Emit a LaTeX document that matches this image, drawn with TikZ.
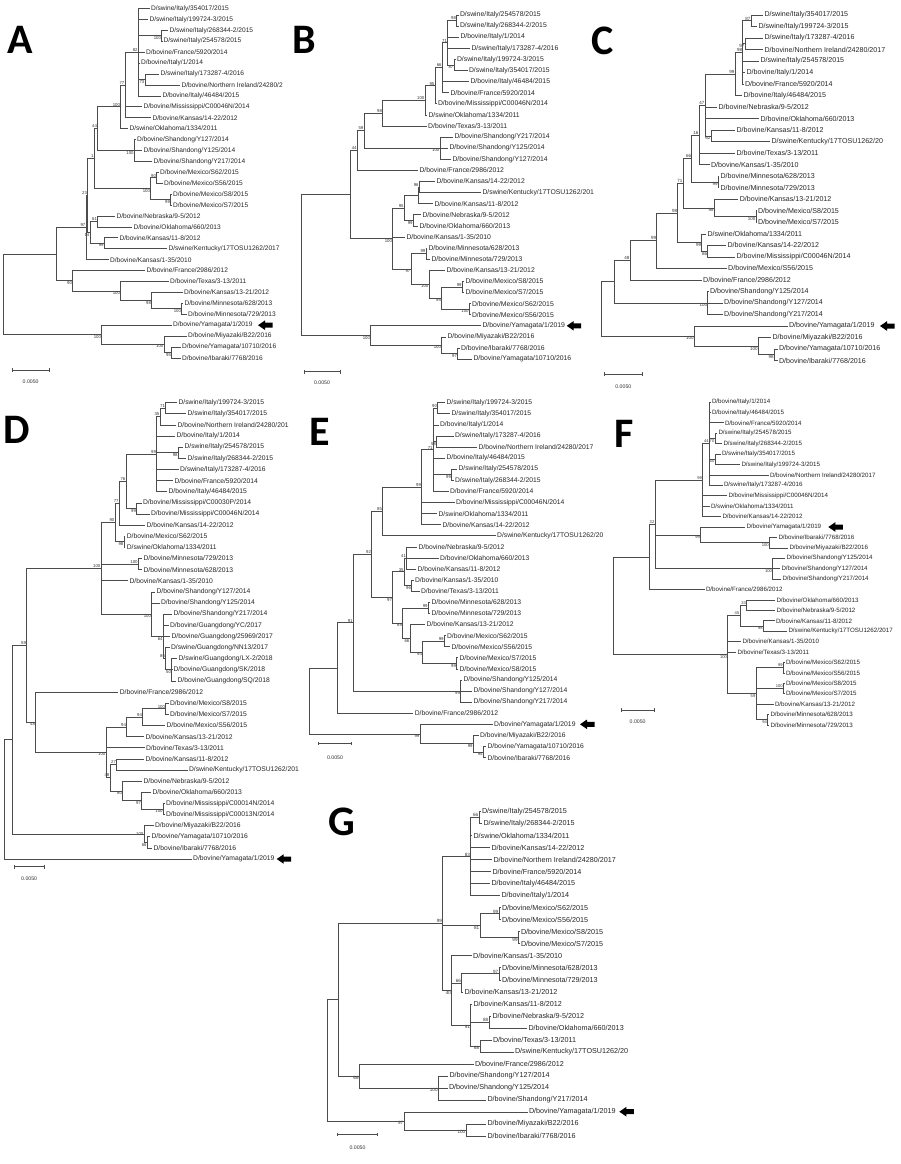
\documentclass[tikz,border=0pt]{standalone}
\usepackage{fontspec}
\setmainfont{Liberation Sans}
\newfontfamily\letfont{Carlito}
\usetikzlibrary{calc}
\newcommand\tleaf[4]{\coordinate (#1) at (#3,{\ya+(#2-1)*\ys}); \node[lab] (#1t) at (#1) {#4};}
\newcommand\tnode[4]{\path let \p1=(#3), \p2=(#4) in (#2pt,{0.5*\y1+0.5*\y2}) coordinate (#1);}
\newcommand\tbr[2]{\foreach \ch in {#2}{\draw[br] (#1) |- (\ch);}}
\newcommand\bsa[2]{\node[bsn,anchor=south east] (#1-b) at (#1) {#2};}
\newcommand\bsb[2]{\node[bsn,anchor=north east] (#1-b) at (#1) {#2};}
\newcommand\bsl[2]{\node[bsn,anchor=east] (#1-b) at (#1) {#2};}
\newcommand\tarrow[3]{\coordinate (#1) at (#2,#3); \fill[black] (#1) -- ++(7,-4.8) -- ++(0,2.3) -- ++(7.5,0) -- ++(0,5) -- ++(-7.5,0) -- ++(0,2.3) -- cycle;}
\newcommand\tscale[5]{\coordinate (#1l) at (#2,#4); \coordinate (#1r) at (#3,#4);
 \draw[br] (#1l) -- (#1r);
 \draw[br] (#1l) ++(0,-1.8) -- ++(0,3.6);
 \draw[br] (#1r) ++(0,-1.8) -- ++(0,3.6);
 \node[sclab] (#1t) at ({(#2+#3)/2},#5) {0.0050};}
\begin{document}
\begin{tikzpicture}[x=1pt,y=-1pt,
 br/.style={line width=0.7pt, draw=black!70},
 lab/.style={anchor=west, inner sep=1.3pt, text=black!85, font=\fontsize{\fs}{\fs}\selectfont},
 bsn/.style={inner sep=0.5pt, text=black!80, font=\fontsize{\bsz}{\bsz}\selectfont},
 sclab/.style={inner sep=0pt, text=black!80, font=\fontsize{5.2}{5.2}\selectfont},
 letter/.style={anchor=base west, inner sep=0pt, font=\letfont\bfseries\fontsize{42}{42}\selectfont}]
\fill[white] (0,0) rectangle (900,1164);
\useasboundingbox (0,0) rectangle (900,1164);
\def\fs{6.6}\def\bsz{4.3}
% ================= PANEL A =================
\def\ya{8.5}\def\ys{10.92}\def\fs{6.6}\def\bsz{4.3}
\node[letter] (LA) at (7,54) {A};
\tleaf{a1}{1}{149.5}{D/swine/Italy/354017/2015}
\tleaf{a2}{2}{148}{D/swine/Italy/199724-3/2015}
\tleaf{a3}{3}{168}{D/swine/Italy/268344-2/2015}
\tleaf{a4}{4}{162}{D/swine/Italy/254578/2015}
\tleaf{a5}{5}{144.5}{D/bovine/France/5920/2014}
\tleaf{a6}{6}{139.5}{D/bovine/Italy/1/2014}
\tleaf{a7}{7}{159}{D/swine/Italy/173287-4/2016}
\tleaf{a8}{8}{180}{D/bovine/Northern Ireland/24280/2}
\tleaf{a9}{9}{161}{D/bovine/Italy/46484/2015}
\tleaf{a10}{10}{142}{D/bovine/Mississippi/C00046N/2014}
\tleaf{a11}{11}{151}{D/bovine/Kansas/14-22/2012}
\tleaf{a12}{12}{128}{D/swine/Oklahoma/1334/2011}
\tleaf{a13}{13}{135.5}{D/bovine/Shandong/Y127/2014}
\tleaf{a14}{14}{142}{D/bovine/Shandong/Y125/2014}
\tleaf{a15}{15}{152}{D/bovine/Shandong/Y217/2014}
\tleaf{a16}{16}{158.5}{D/bovine/Mexico/S62/2015}
\tleaf{a17}{17}{162.5}{D/bovine/Mexico/S56/2015}
\tleaf{a18}{18}{171.5}{D/bovine/Mexico/S8/2015}
\tleaf{a19}{19}{171.5}{D/bovine/Mexico/S7/2015}
\tleaf{a20}{20}{115}{D/bovine/Nebraska/9-5/2012}
\tleaf{a21}{21}{132}{D/bovine/Oklahoma/660/2013}
\tleaf{a22}{22}{118}{D/bovine/Kansas/11-8/2012}
\tleaf{a23}{23}{167}{D/swine/Kentucky/17TOSU1262/2017}
\tleaf{a24}{24}{108.5}{D/bovine/Kansas/1-35/2010}
\tleaf{a25}{25}{145}{D/bovine/France/2986/2012}
\tleaf{a26}{26}{168.5}{D/bovine/Texas/3-13/2011}
\tleaf{a27}{27}{182.5}{D/bovine/Kansas/13-21/2012}
\tleaf{a28}{28}{183}{D/bovine/Minnesota/628/2013}
\tleaf{a29}{29}{186.5}{D/bovine/Minnesota/729/2013}
\tleaf{a30}{30}{171.5}{D/bovine/Yamagata/1/2019}
\tleaf{a31}{31}{186.5}{D/bovine/Miyazaki/B22/2016}
\tleaf{a32}{32}{180.5}{D/bovine/Yamagata/10710/2016}
\tleaf{a33}{33}{180.5}{D/bovine/Ibaraki/7768/2016}
\tnode{A56}{161.7}{a3}{a4} \tbr{A56}{a3,a4} \bsb{A56}{100}
\tnode{A78}{145}{a7}{a8} \tbr{A78}{a7,a8} \bsb{A78}{73}
\tnode{AIt}{138.3}{a1}{a9} \tbr{AIt}{a1,a2,A56,a5,a6,A78,a9} \bsa{AIt}{82}
\tnode{A77}{125}{AIt}{a11} \tbr{A77}{AIt,a10,a11} \bsa{A77}{77}
\tnode{A100}{120.7}{A77}{a12} \tbr{A100}{A77,a12} \bsa{A100}{100}
\tnode{ASh}{134.3}{a13}{a15} \tbr{ASh}{a13,a14,a15} \bsb{ASh}{100}
\tnode{A44}{97.7}{A100}{ASh} \tbr{A44}{A100,ASh} \bsa{A44}{44}
\tnode{AM1}{156.7}{a16}{a17} \tbr{AM1}{a16,a17} \bsa{AM1}{90}
\tnode{AM2}{170.7}{a18}{a19} \tbr{AM2}{a18,a19} \bsb{AM2}{99}
\tnode{AM}{150.7}{AM1}{AM2} \tbr{AM}{AM1,AM2} \bsb{AM}{100}
\tnode{A1n}{94.3}{A44}{AM} \tbr{A1n}{A44,AM} \bsa{A1n}{1}
\tnode{ANe}{97.7}{a20}{a21} \tbr{ANe}{a20,a21} \bsa{ANe}{61}
\tnode{AKe}{104.3}{a22}{a23} \tbr{AKe}{a22,a23} \bsb{AKe}{99}
\tnode{A14}{90}{ANe}{AKe} \tbr{A14}{ANe,AKe} \bsb{A14}{14}
\tnode{A23}{87.7}{A1n}{A14} \tbr{A23}{A1n,A14} \bsa{A23}{23}
\tnode{A97}{86}{A23}{a24} \tbr{A97}{A23,a24} \bsa{A97}{97}
\tnode{AMi}{181.7}{a28}{a29} \tbr{AMi}{a28,a29} \bsb{AMi}{100}
\tnode{A98}{151.7}{a27}{AMi} \tbr{A98}{a27,AMi} \bsb{A98}{98}
\tnode{ATx}{120.7}{a26}{A98} \tbr{ATx}{a26,A98} \bsb{ATx}{100}
\tnode{A90}{72.7}{a25}{ATx} \tbr{A90}{a25,ATx} \bsb{A90}{90}
\tnode{A57}{56.7}{A97}{A90} \tbr{A57}{A97,A90}
\tnode{A95}{171.7}{a32}{a33} \tbr{A95}{a32,a33} \bsb{A95}{95}
\tnode{AMy}{164}{a31}{A95} \tbr{AMy}{a31,A95} \bsb{AMy}{100}
\tnode{AYa}{101.7}{a30}{AMy} \tbr{AYa}{a30,AMy} \bsb{AYa}{100}
\tnode{AR}{3.3}{A57}{AYa} \tbr{AR}{A57,AYa}
\tarrow{Aarr}{258}{325.2}
\tscale{As}{12.3}{49}{370}{381.7}
% ================= PANEL B =================
\def\ya{15}\def\ys{11.1}\def\fs{6.85}\def\bsz{4.3}
\node[letter] (LB) at (292,53) {B};
\tleaf{b1}{1}{458.5}{D/swine/Italy/254578/2015}
\tleaf{b2}{2}{458.5}{D/swine/Italy/268344-2/2015}
\tleaf{b3}{3}{459}{D/bovine/Italy/1/2014}
\tleaf{b4}{4}{470}{D/swine/Italy/173287-4/2016}
\tleaf{b5}{5}{455.5}{D/swine/Italy/199724-3/2015}
\tleaf{b6}{6}{467.5}{D/swine/Italy/354017/2015}
\tleaf{b7}{7}{469}{D/bovine/Italy/46484/2015}
\tleaf{b8}{8}{449}{D/bovine/France/5920/2014}
\tleaf{b9}{9}{436.5}{D/bovine/Mississippi/C00046N/2014}
\tleaf{b10}{10}{427}{D/swine/Oklahoma/1334/2011}
\tleaf{b11}{11}{426.7}{D/bovine/Texas/3-13/2011}
\tleaf{b12}{12}{453}{D/bovine/Shandong/Y217/2014}
\tleaf{b13}{13}{448}{D/bovine/Shandong/Y125/2014}
\tleaf{b14}{14}{451}{D/bovine/Shandong/Y127/2014}
\tleaf{b15}{15}{418}{D/bovine/France/2986/2012}
\tleaf{b16}{16}{435}{D/bovine/Kansas/14-22/2012}
\tleaf{b17}{17}{481}{D/swine/Kentucky/17TOSU1262/201}
\tleaf{b18}{18}{433}{D/bovine/Kansas/11-8/2012}
\tleaf{b19}{19}{421}{D/bovine/Nebraska/9-5/2012}
\tleaf{b20}{20}{418}{D/bovine/Oklahoma/660/2013}
\tleaf{b21}{21}{405}{D/bovine/Kansas/1-35/2010}
\tleaf{b22}{22}{427}{D/bovine/Minnesota/628/2013}
\tleaf{b23}{23}{430}{D/bovine/Minnesota/729/2013}
\tleaf{b24}{24}{445}{D/bovine/Kansas/13-21/2012}
\tleaf{b25}{25}{464}{D/bovine/Mexico/S8/2015}
\tleaf{b26}{26}{464}{D/bovine/Mexico/S7/2015}
\tleaf{b27}{27}{470.5}{D/bovine/Mexico/S62/2015}
\tleaf{b28}{28}{470.5}{D/bovine/Mexico/S56/2015}
\tleaf{b29}{29}{481}{D/bovine/Yamagata/1/2019}
\tleaf{b30}{30}{446}{D/bovine/Miyazaki/B22/2016}
\tleaf{b31}{31}{459.5}{D/bovine/Ibaraki/7768/2016}
\tleaf{b32}{32}{472}{D/bovine/Yamagata/10710/2016}
\tnode{B98}{456.7}{b1}{b2} \tbr{B98}{b1,b2} \bsa{B98}{98}
\tnode{B87}{454}{b5}{b6} \tbr{B87}{b5,b6} \bsb{B87}{87}
\tnode{B71}{447.7}{B98}{B87} \tbr{B71}{B98,b3,b4,B87} \bsa{B71}{71}
\tnode{B66}{442.3}{B71}{b8} \tbr{B66}{B71,b7,b8} \bsa{B66}{66}
\tnode{B95}{435}{B66}{b9} \tbr{B95}{B66,b9} \bsa{B95}{95}
\tnode{B100}{425}{B95}{b10} \tbr{B100}{B95,b10} \bsa{B100}{100}
\tnode{B98b}{382.7}{B100}{b11} \tbr{B98b}{B100,b11} \bsa{B98b}{98}
\tnode{BSh}{440}{b12}{b14} \tbr{BSh}{b12,b13,b14} \bsb{BSh}{100}
\tnode{B59}{364}{B98b}{BSh} \tbr{B59}{B98b,BSh} \bsa{B59}{59}
\tnode{B44}{357.3}{B59}{b15} \tbr{B44}{B59,b15} \bsa{B44}{44}
\tnode{B96}{419.3}{b16}{b17} \tbr{B96}{b16,b17} \bsa{B96}{96}
\tnode{BKK}{418}{B96}{b18} \tbr{BKK}{B96,b18}
\tnode{BNe}{413.3}{b19}{b20} \tbr{BNe}{b19,b20} \bsb{BNe}{99}
\tnode{B95b}{404.3}{BKK}{BNe} \tbr{B95b}{BKK,BNe} \bsa{B95b}{95}
\tnode{BMi}{426}{b22}{b23} \tbr{BMi}{b22,b23} \bsa{BMi}{99}
\tnode{BM1}{462.3}{b25}{b26} \tbr{BM1}{b25,b26} \bsa{BM1}{99}
\tnode{BM2}{469.3}{b27}{b28} \tbr{BM2}{b27,b28} \bsb{BM2}{100}
\tnode{B95c}{441.7}{BM1}{BM2} \tbr{B95c}{BM1,BM2} \bsb{B95c}{95}
\tnode{B100c}{429}{b24}{B95c} \tbr{B100c}{b24,B95c} \bsb{B100c}{100}
\tnode{B97}{411}{BMi}{B100c} \tbr{B97}{BMi,B100c} \bsb{B97}{97}
\tnode{B100b}{392.7}{B95b}{B97} \tbr{B100b}{B95b,b21,B97} \bsb{B100b}{100}
\tnode{BR1}{350}{B44}{B100b} \tbr{BR1}{B44,B100b}
\tnode{B97b}{457.7}{b31}{b32} \tbr{B97b}{b31,b32} \bsb{B97b}{97}
\tnode{BMy}{441.7}{b30}{B97b} \tbr{BMy}{b30,B97b} \bsb{BMy}{100}
\tnode{BYa}{370.7}{b29}{BMy} \tbr{BYa}{b29,BMy} \bsb{BYa}{100}
\tnode{BR}{301.5}{BR1}{BYa} \tbr{BR}{BR1,BYa}
\tarrow{Barr}{566.7}{325.8}
\tscale{Bs}{304}{340}{371.7}{382.7}
% ================= PANEL C =================
\def\ya{15}\def\ys{11.52}\def\fs{7.1}\def\bsz{4.5}
\node[letter] (LC) at (591,55) {C};
\tleaf{c1}{1}{763}{D/swine/Italy/354017/2015}
\tleaf{c2}{2}{757}{D/swine/Italy/199724-3/2015}
\tleaf{c3}{3}{763}{D/swine/Italy/173287-4/2016}
\tleaf{c4}{4}{763}{D/bovine/Northern Ireland/24280/2017}
\tleaf{c5}{5}{759}{D/swine/Italy/254578/2015}
\tleaf{c6}{6}{745}{D/bovine/Italy/1/2014}
\tleaf{c7}{7}{743.5}{D/bovine/France/5920/2014}
\tleaf{c8}{8}{742}{D/bovine/Italy/46484/2015}
\tleaf{c9}{9}{717}{D/bovine/Nebraska/9-5/2012}
\tleaf{c10}{10}{759}{D/bovine/Oklahoma/660/2013}
\tleaf{c11}{11}{735}{D/bovine/Kansas/11-8/2012}
\tleaf{c12}{12}{770}{D/swine/Kentucky/17TOSU1262/20}
\tleaf{c13}{13}{735}{D/bovine/Texas/3-13/2011}
\tleaf{c14}{14}{709.5}{D/bovine/Kansas/1-35/2010}
\tleaf{c15}{15}{719}{D/bovine/Minnesota/628/2013}
\tleaf{c16}{16}{719}{D/bovine/Minnesota/729/2013}
\tleaf{c17}{17}{738.3}{D/bovine/Kansas/13-21/2012}
\tleaf{c18}{18}{756.5}{D/bovine/Mexico/S8/2015}
\tleaf{c19}{19}{756.5}{D/bovine/Mexico/S7/2015}
\tleaf{c20}{20}{706}{D/swine/Oklahoma/1334/2011}
\tleaf{c21}{21}{726}{D/bovine/Kansas/14-22/2012}
\tleaf{c22}{22}{735}{D/bovine/Mississippi/C00046N/2014}
\tleaf{c23}{23}{726.7}{D/bovine/Mexico/S56/2015}
\tleaf{c24}{24}{701.7}{D/bovine/France/2986/2012}
\tleaf{c25}{25}{708.5}{D/bovine/Shandong/Y125/2014}
\tleaf{c26}{26}{722.7}{D/bovine/Shandong/Y127/2014}
\tleaf{c27}{27}{722.7}{D/bovine/Shandong/Y217/2014}
\tleaf{c28}{28}{787.5}{D/bovine/Yamagata/1/2019}
\tleaf{c29}{29}{771}{D/bovine/Miyazaki/B22/2016}
\tleaf{c30}{30}{777.5}{D/bovine/Yamagata/10710/2016}
\tleaf{c31}{31}{777.5}{D/bovine/Ibaraki/7768/2016}
\tnode{C87}{751}{c1}{c2} \tbr{C87}{c1,c2} \bsa{C87}{87}
\tnode{CNI}{745}{c3}{c4} \tbr{CNI}{c3,c4} \bsb{CNI}{97}
\tnode{C98}{742.7}{C87}{c7} \tbr{C98}{C87,CNI,c5,c6,c7} \bsa{C98}{98}
\tnode{C99}{735}{C98}{c8} \tbr{C99}{C98,c8} \bsa{C99}{99}
\tnode{C62}{711}{c11}{c12} \tbr{C62}{c11,c12} \bsb{C62}{62}
\tnode{C47}{705}{C99}{C62} \tbr{C47}{C99,c9,c10,C62} \bsa{C47}{47}
\tnode{C16}{699}{C47}{c14} \tbr{C16}{C47,c13,c14} \bsa{C16}{16}
\tnode{CMi}{718.3}{c15}{c16} \tbr{CMi}{c15,c16} \bsb{CMi}{99}
\tnode{C66}{691.7}{C16}{CMi} \tbr{C66}{C16,CMi} \bsa{C66}{66}
\tnode{CM8}{756}{c18}{c19} \tbr{CM8}{c18,c19} \bsb{CM8}{100}
\tnode{C98c}{714.3}{c17}{CM8} \tbr{C98c}{c17,CM8} \bsb{C98c}{98}
\tnode{C71}{683}{C66}{C98c} \tbr{C71}{C66,C98c} \bsa{C71}{71}
\tnode{C86}{707.7}{c21}{c22} \tbr{C86}{c21,c22} \bsb{C86}{86}
\tnode{C99b}{701.7}{c20}{C86} \tbr{C99b}{c20,C86} \bsb{C99b}{99}
\tnode{C98d}{677.7}{C71}{C99b} \tbr{C98d}{C71,C99b} \bsa{C98d}{98}
\tnode{C99c}{656.7}{C98d}{c23} \tbr{C99c}{C98d,c23} \bsa{C99c}{99}
\tnode{C48}{630}{C99c}{c24} \tbr{C48}{C99c,c24} \bsa{C48}{48}
\tnode{CSh}{707.7}{c25}{c27} \tbr{CSh}{c25,c26,c27} \bsb{CSh}{100}
\tnode{CX}{614}{C48}{CSh} \tbr{CX}{C48,CSh}
\tnode{C98e}{774.3}{c30}{c31} \tbr{C98e}{c30,c31} \bsb{C98e}{98}
\tnode{CMy}{758.3}{c29}{C98e} \tbr{CMy}{c29,C98e} \bsb{CMy}{100}
\tnode{CYa}{694.3}{c28}{CMy} \tbr{CYa}{c28,CMy} \bsb{CYa}{100}
\tnode{CR}{601}{CX}{CYa} \tbr{CR}{CX,CYa}
\tarrow{Carr}{880}{326}
\tscale{Cs}{604}{642.7}{374}{386.7}
% ================= PANEL D =================
\def\ya{402.7}\def\ys{11.13}\def\fs{6.75}\def\bsz{4.3}
\node[letter] (LD) at (3,443) {D};
\tleaf{d1}{1}{177}{D/swine/Italy/199724-3/2015}
\tleaf{d2}{2}{186}{D/swine/Italy/354017/2015}
\tleaf{d3}{3}{176}{D/bovine/Northern Ireland/24280/201}
\tleaf{d4}{4}{175}{D/bovine/Italy/1/2014}
\tleaf{d5}{5}{183}{D/swine/Italy/254578/2015}
\tleaf{d6}{6}{186}{D/swine/Italy/268344-2/2015}
\tleaf{d7}{7}{178.5}{D/swine/Italy/173287-4/2016}
\tleaf{d8}{8}{173}{D/bovine/France/5920/2014}
\tleaf{d9}{9}{167}{D/bovine/Italy/46484/2015}
\tleaf{d10}{10}{141.5}{D/bovine/Mississippi/C00030P/2014}
\tleaf{d11}{11}{149.5}{D/bovine/Mississippi/C00046N/2014}
\tleaf{d12}{12}{145}{D/bovine/Kansas/14-22/2012}
\tleaf{d13}{13}{125.3}{D/bovine/Mexico/S62/2015}
\tleaf{d14}{14}{125.3}{D/swine/Oklahoma/1334/2011}
\tleaf{d15}{15}{142}{D/bovine/Minnesota/729/2013}
\tleaf{d16}{16}{142}{D/bovine/Minnesota/628/2013}
\tleaf{d17}{17}{128}{D/bovine/Kansas/1-35/2010}
\tleaf{d18}{18}{155}{D/bovine/Shandong/Y127/2014}
\tleaf{d19}{19}{159.5}{D/bovine/Shandong/Y125/2014}
\tleaf{d20}{20}{172}{D/bovine/Shandong/Y217/2014}
\tleaf{d21}{21}{168.5}{D/bovine/Guangdong/YC/2017}
\tleaf{d22}{22}{170}{D/bovine/Guangdong/25969/2017}
\tleaf{d23}{23}{169.5}{D/swine/Guangdong/NN13/2017}
\tleaf{d24}{24}{177}{D/swine/Guangdong/LX-2/2018}
\tleaf{d25}{25}{172}{D/bovine/Guangdong/SK/2018}
\tleaf{d26}{26}{176}{D/bovine/Guangdong/SQ/2018}
\tleaf{d27}{27}{118.3}{D/bovine/France/2986/2012}
\tleaf{d28}{28}{168.5}{D/bovine/Mexico/S8/2015}
\tleaf{d29}{29}{168.5}{D/bovine/Mexico/S7/2015}
\tleaf{d30}{30}{165}{D/bovine/Mexico/S56/2015}
\tleaf{d31}{31}{144}{D/bovine/Kansas/13-21/2012}
\tleaf{d32}{32}{144.5}{D/bovine/Texas/3-13/2011}
\tleaf{d33}{33}{144}{D/bovine/Kansas/11-8/2012}
\tleaf{d34}{34}{187.5}{D/swine/Kentucky/17TOSU1262/201}
\tleaf{d35}{35}{142}{D/bovine/Nebraska/9-5/2012}
\tleaf{d36}{36}{151}{D/bovine/Oklahoma/660/2013}
\tleaf{d37}{37}{164.5}{D/bovine/Mississippi/C00014N/2014}
\tleaf{d38}{38}{164.5}{D/bovine/Mississippi/C00013N/2014}
\tleaf{d39}{39}{153.5}{D/bovine/Miyazaki/B22/2016}
\tleaf{d40}{40}{150}{D/bovine/Yamagata/10710/2016}
\tleaf{d41}{41}{152}{D/bovine/Ibaraki/7768/2016}
\tleaf{d42}{42}{191.7}{D/bovine/Yamagata/1/2019}
\tnode{D71}{165.7}{d1}{d2} \tbr{D71}{d1,d2} \bsa{D71}{71}
\tnode{D35}{160}{D71}{d3} \tbr{D35}{D71,d3} \bsa{D35}{35}
\tnode{D98}{178.3}{d5}{d6} \tbr{D98}{d5,d6} \bsb{D98}{98}
\tnode{D99}{156.7}{D35}{d9} \tbr{D99}{D35,d4,D98,d7,d8,d9} \bsa{D99}{99}
\tnode{D99b}{136.7}{d10}{d11} \tbr{D99b}{d10,d11} \bsb{D99b}{99}
\tnode{D76}{126}{D99}{D99b} \tbr{D76}{D99,D99b} \bsa{D76}{76}
\tnode{D77}{119.3}{D76}{d12} \tbr{D77}{D76,d12} \bsa{D77}{77}
\tnode{DMO}{124}{d13}{d14} \tbr{DMO}{d13,d14} \bsb{DMO}{98}
\tnode{D90}{115}{D77}{DMO} \tbr{D90}{D77,DMO} \bsa{D90}{90}
\tnode{DMi}{138.3}{d15}{d16} \tbr{DMi}{d15,d16} \bsa{DMi}{100}
\tnode{D50}{171.7}{d24}{d26} \tbr{D50}{d24,d25,d26} \bsb{D50}{50}
\tnode{D86}{165.7}{d23}{D50} \tbr{D86}{d23,D50} \bsa{D86}{86}
\tnode{D64}{163.3}{d20}{D86} \tbr{D64}{d20,d21,d22,D86} \bsb{D64}{64}
\tnode{DSh}{151.7}{d18}{D64} \tbr{DSh}{d18,d19,D64} \bsb{DSh}{100}
\tnode{D100}{101}{D90}{DSh} \tbr{D100}{D90,DMi,d17,DSh} \bsa{D100}{100}
\tnode{DM8}{165.7}{d28}{d29} \tbr{DM8}{d28,d29} \bsa{DM8}{100}
\tnode{D94b}{142.7}{DM8}{d30} \tbr{D94b}{DM8,d30} \bsa{D94b}{94}
\tnode{D94a}{126.7}{D94b}{d31} \tbr{D94a}{D94b,d31} \bsa{D94a}{94}
\tnode{D27}{116.7}{d33}{d34} \tbr{D27}{d33,d34} \bsa{D27}{27}
\tnode{D100n}{163.3}{d37}{d38} \tbr{D100n}{d37,d38} \bsb{D100n}{100}
\tnode{D97}{141.7}{d36}{D100n} \tbr{D97}{d36,D100n} \bsb{D97}{97}
\tnode{D80}{122.7}{d35}{D97} \tbr{D80}{d35,D97} \bsb{D80}{80}
\tnode{D48b}{110}{D27}{D80} \tbr{D48b}{D27,D80} \bsa{D48b}{48}
\tnode{D100m}{106}{D94a}{D48b} \tbr{D100m}{D94a,d32,D48b} \bsb{D100m}{100}
\tnode{DF}{35.7}{d27}{D100m} \tbr{DF}{d27,D100m} \bsb{DF}{48}
\tnode{D59}{26.7}{D100}{DF} \tbr{D59}{D100,DF} \bsa{D59}{59}
\tnode{D66}{147.3}{d40}{d41} \tbr{D66}{d40,d41} \bsb{D66}{66}
\tnode{DMy}{144}{d39}{D66} \tbr{DMy}{d39,D66} \bsl{DMy}{100}
\tnode{DN}{12.7}{D59}{DMy} \tbr{DN}{D59,DMy}
\tnode{DR}{4.3}{DN}{d42} \tbr{DR}{DN,d42}
\tarrow{Darr}{276.7}{859}
\tscale{Ds}{14}{44.3}{866.7}{878.3}
% ================= PANEL E =================
\def\ya{402.7}\def\ys{11.09}\def\fs{6.75}\def\bsz{4.3}
\node[letter] (LE) at (309,445) {E};
\tleaf{e1}{1}{445}{D/swine/Italy/199724-3/2015}
\tleaf{e2}{2}{450}{D/swine/Italy/354017/2015}
\tleaf{e3}{3}{438.5}{D/bovine/Italy/1/2014}
\tleaf{e4}{4}{453.5}{D/swine/Italy/173287-4/2016}
\tleaf{e5}{5}{477}{D/bovine/Northern Ireland/24280/2017}
\tleaf{e6}{6}{445}{D/bovine/Italy/46484/2015}
\tleaf{e7}{7}{457}{D/swine/Italy/254578/2015}
\tleaf{e8}{8}{453.5}{D/swine/Italy/268344-2/2015}
\tleaf{e9}{9}{448.5}{D/bovine/France/5920/2014}
\tleaf{e10}{10}{454.5}{D/bovine/Mississippi/C00046N/2014}
\tleaf{e11}{11}{437}{D/swine/Oklahoma/1334/2011}
\tleaf{e12}{12}{441}{D/bovine/Kansas/14-22/2012}
\tleaf{e13}{13}{495.7}{D/swine/Kentucky/17TOSU1262/20}
\tleaf{e14}{14}{417}{D/bovine/Nebraska/9-5/2012}
\tleaf{e15}{15}{438.5}{D/bovine/Oklahoma/660/2013}
\tleaf{e16}{16}{416}{D/bovine/Kansas/11-8/2012}
\tleaf{e17}{17}{413.5}{D/bovine/Kansas/1-35/2010}
\tleaf{e18}{18}{419.5}{D/bovine/Texas/3-13/2011}
\tleaf{e19}{19}{430}{D/bovine/Minnesota/628/2013}
\tleaf{e20}{20}{430}{D/bovine/Minnesota/729/2013}
\tleaf{e21}{21}{425}{D/bovine/Kansas/13-21/2012}
\tleaf{e22}{22}{445.5}{D/bovine/Mexico/S62/2015}
\tleaf{e23}{23}{450}{D/bovine/Mexico/S56/2015}
\tleaf{e24}{24}{458}{D/bovine/Mexico/S7/2015}
\tleaf{e25}{25}{458}{D/bovine/Mexico/S8/2015}
\tleaf{e26}{26}{462}{D/bovine/Shandong/Y125/2014}
\tleaf{e27}{27}{472}{D/bovine/Shandong/Y127/2014}
\tleaf{e28}{28}{472}{D/bovine/Shandong/Y217/2014}
\tleaf{e29}{29}{413.3}{D/bovine/France/2986/2012}
\tleaf{e30}{30}{492.7}{D/bovine/Yamagata/1/2019}
\tleaf{e31}{31}{478.5}{D/bovine/Miyazaki/B22/2016}
\tleaf{e32}{32}{486}{D/bovine/Yamagata/10710/2016}
\tleaf{e33}{33}{486}{D/bovine/Ibaraki/7768/2016}
\tnode{E90}{437.7}{e1}{e2} \tbr{E90}{e1,e2} \bsa{E90}{90}
\tnode{E58}{436.7}{e4}{e5} \tbr{E58}{e4,e5} \bsb{E58}{58}
\tnode{E99a}{451.7}{e7}{e8} \tbr{E99a}{e7,e8} \bsb{E99a}{99}
\tnode{E71}{433.3}{E90}{e9} \tbr{E71}{E90,e3,E58,e6,E99a,e9} \bsa{E71}{71}
\tnode{E99}{421.7}{E71}{e12} \tbr{E99}{E71,e10,e11,e12} \bsa{E99}{99}
\tnode{E85}{382.7}{E99}{e13} \tbr{E85}{E99,e13} \bsa{E85}{85}
\tnode{E41}{406.7}{e14}{e16} \tbr{E41}{e14,e15,e16} \bsa{E41}{41}
\tnode{E96}{411.7}{e17}{e18} \tbr{E96}{e17,e18} \bsb{E96}{96}
\tnode{E35}{404.3}{E41}{E96} \tbr{E35}{E41,E96} \bsa{E35}{35}
\tnode{EMi}{428.3}{e19}{e20} \tbr{EMi}{e19,e20} \bsa{EMi}{99}
\tnode{EM62}{444.3}{e22}{e23} \tbr{EM62}{e22,e23} \bsa{EM62}{99}
\tnode{EM7}{456.7}{e24}{e25} \tbr{EM7}{e24,e25} \bsb{EM7}{99}
\tnode{E94}{422.7}{EM62}{EM7} \tbr{E94}{EM62,EM7} \bsb{E94}{94}
\tnode{E66}{410}{e21}{E94} \tbr{E66}{e21,E94} \bsb{E66}{66}
\tnode{E69}{402.7}{EMi}{E66} \tbr{E69}{EMi,E66} \bsb{E69}{69}
\tnode{E97}{392.7}{E35}{E69} \tbr{E97}{E35,E69} \bsb{E97}{97}
\tnode{E92}{371.7}{E85}{E97} \tbr{E92}{E85,E97} \bsa{E92}{92}
\tnode{ESh}{460.7}{e26}{e28} \tbr{ESh}{e26,e27,e28} \bsb{ESh}{99}
\tnode{E91}{353.3}{E92}{ESh} \tbr{E91}{E92,ESh} \bsa{E91}{91}
\tnode{EF}{337.7}{E91}{e29} \tbr{EF}{E91,e29}
\tnode{E95}{483.3}{e32}{e33} \tbr{E95}{e32,e33} \bsb{E95}{95}
\tnode{E99z}{473.3}{e31}{E95} \tbr{E99z}{e31,E95} \bsb{E99z}{99}
\tnode{E99y}{420}{e30}{E99z} \tbr{E99y}{e30,E99z} \bsb{E99y}{99}
\tnode{ER}{309.3}{EF}{E99y} \tbr{ER}{EF,E99y}
\tarrow{Earr}{580}{724.3}
\tscale{Es}{318.3}{351.7}{743.3}{757.3}
% ================= PANEL F =================
\def\ya{402}\def\ys{10.42}\def\fs{6.2}\def\bsz{4.1}
\node[letter] (LF) at (614,447) {F};
\tleaf{f1}{1}{710.5}{D/bovine/Italy/1/2014}
\tleaf{f2}{2}{710.5}{D/bovine/Italy/46484/2015}
\tleaf{f3}{3}{723.5}{D/bovine/France/5920/2014}
\tleaf{f4}{4}{717}{D/swine/Italy/254578/2015}
\tleaf{f5}{5}{722}{D/swine/Italy/268344-2/2015}
\tleaf{f6}{6}{720.5}{D/swine/Italy/354017/2015}
\tleaf{f7}{7}{740}{D/swine/Italy/199724-3/2015}
\tleaf{f8}{8}{768.5}{D/bovine/Northern Ireland/24280/2017}
\tleaf{f9}{9}{722.5}{D/swine/Italy/173287-4/2016}
\tleaf{f10}{10}{727}{D/bovine/Mississippi/C00046N/2014}
\tleaf{f11}{11}{709.5}{D/swine/Oklahoma/1334/2011}
\tleaf{f12}{12}{721}{D/bovine/Kansas/14-22/2012}
\tleaf{f13}{13}{745}{D/bovine/Yamagata/1/2019}
\tleaf{f14}{14}{777}{D/bovine/Ibaraki/7768/2016}
\tleaf{f15}{15}{788}{D/bovine/Miyazaki/B22/2016}
\tleaf{f16}{16}{785}{D/bovine/Shandong/Y125/2014}
\tleaf{f17}{17}{780}{D/bovine/Shandong/Y127/2014}
\tleaf{f18}{18}{781}{D/bovine/Shandong/Y217/2014}
\tleaf{f19}{19}{704.5}{D/bovine/France/2986/2012}
\tleaf{f20}{20}{775}{D/bovine/Oklahoma/660/2013}
\tleaf{f21}{21}{775}{D/bovine/Nebraska/9-5/2012}
\tleaf{f22}{22}{774.5}{D/bovine/Kansas/11-8/2012}
\tleaf{f23}{23}{787}{D/swine/Kentucky/17TOSU1262/2017}
\tleaf{f24}{24}{741}{D/bovine/Kansas/1-35/2010}
\tleaf{f25}{25}{736}{D/bovine/Texas/3-13/2011}
\tleaf{f26}{26}{784.5}{D/bovine/Mexico/S62/2015}
\tleaf{f27}{27}{784.5}{D/bovine/Mexico/S56/2015}
\tleaf{f28}{28}{784.5}{D/bovine/Mexico/S8/2015}
\tleaf{f29}{29}{784.5}{D/bovine/Mexico/S7/2015}
\tleaf{f30}{30}{773.5}{D/bovine/Kansas/13-21/2012}
\tleaf{f31}{31}{769}{D/bovine/Minnesota/628/2013}
\tleaf{f32}{32}{769}{D/bovine/Minnesota/729/2013}
\tnode{F70}{715}{f4}{f5} \tbr{F70}{f4,f5} \bsb{F70}{70}
\tnode{F60}{715}{f6}{f7} \tbr{F60}{f6,f7} \bsb{F60}{60}
\tnode{FIt}{709.3}{f1}{f9} \tbr{FIt}{f1,f2,f3,F70,F60,f8,f9} \bsa{FIt}{44}
\tnode{F99}{702.7}{FIt}{f12} \tbr{F99}{FIt,f10,f11,f12} \bsa{F99}{99}
\tnode{F100}{769.3}{f14}{f15} \tbr{F100}{f14,f15} \bsb{F100}{100}
\tnode{F99y}{700.7}{f13}{F100} \tbr{F99y}{f13,F100} \bsb{F99y}{99}
\tnode{FSh}{772.7}{f16}{f18} \tbr{FSh}{f16,f17,f18} \bsb{FSh}{100}
\tnode{F32}{655}{F99}{FSh} \tbr{F32}{F99,F99y,FSh} \bsa{F32}{32}
\tnode{FU}{649.3}{F32}{f19} \tbr{FU}{F32,f19}
\tnode{F33}{746.7}{f20}{f21} \tbr{F33}{f20,f21} \bsa{F33}{33}
\tnode{F98}{763.3}{f22}{f23} \tbr{F98}{f22,f23} \bsb{F98}{98}
\tnode{F45}{740}{F33}{F98} \tbr{F45}{F33,F98} \bsa{F45}{45}
\tnode{FM62}{783.3}{f26}{f27} \tbr{FM62}{f26,f27} \bsa{FM62}{99}
\tnode{FM8}{783.3}{f28}{f29} \tbr{FM8}{f28,f29} \bsa{FM8}{100}
\tnode{FMi}{767.7}{f31}{f32} \tbr{FMi}{f31,f32} \bsb{FMi}{94}
\tnode{F59}{756}{FM62}{FMi} \tbr{F59}{FM62,FM8,f30,FMi} \bsb{F59}{59}
\tnode{F100b}{727.7}{F45}{F59} \tbr{F100b}{F45,f24,f25,F59} \bsb{F100b}{100}
\tnode{FR}{613.3}{FU}{F100b} \tbr{FR}{FU,F100b}
\tarrow{Farr}{828.3}{527}
\tscale{Fs}{621}{654.3}{710}{721.7}
% ================= PANEL G =================
\def\ya{811.7}\def\ys{12.01}\def\fs{7.2}\def\bsz{4.6}
\node[letter] (LG) at (328,835) {G};
\tleaf{g1}{1}{480.5}{D/swine/Italy/254578/2015}
\tleaf{g2}{2}{482}{D/swine/Italy/268344-2/2015}
\tleaf{g3}{3}{472}{D/swine/Oklahoma/1334/2011}
\tleaf{g4}{4}{490}{D/bovine/Kansas/14-22/2012}
\tleaf{g5}{5}{492}{D/bovine/Northern Ireland/24280/2017}
\tleaf{g6}{6}{491}{D/bovine/France/5920/2014}
\tleaf{g7}{7}{490}{D/bovine/Italy/46484/2015}
\tleaf{g8}{8}{500}{D/bovine/Italy/1/2014}
\tleaf{g9}{9}{500.5}{D/bovine/Mexico/S62/2015}
\tleaf{g10}{10}{500.5}{D/bovine/Mexico/S56/2015}
\tleaf{g11}{11}{519.5}{D/bovine/Mexico/S8/2015}
\tleaf{g12}{12}{519.5}{D/bovine/Mexico/S7/2015}
\tleaf{g13}{13}{471.7}{D/bovine/Kansas/1-35/2010}
\tleaf{g14}{14}{500.5}{D/bovine/Minnesota/628/2013}
\tleaf{g15}{15}{500.5}{D/bovine/Minnesota/729/2013}
\tleaf{g16}{16}{463}{D/bovine/Kansas/13-21/2012}
\tleaf{g17}{17}{472}{D/bovine/Kansas/11-8/2012}
\tleaf{g18}{18}{491}{D/bovine/Nebraska/9-5/2012}
\tleaf{g19}{19}{527}{D/bovine/Oklahoma/660/2013}
\tleaf{g20}{20}{491.5}{D/bovine/Texas/3-13/2011}
\tleaf{g21}{21}{513.5}{D/swine/Kentucky/17TOSU1262/20}
\tleaf{g22}{22}{473.5}{D/bovine/France/2986/2012}
\tleaf{g23}{23}{448}{D/bovine/Shandong/Y127/2014}
\tleaf{g24}{24}{447.5}{D/bovine/Shandong/Y125/2014}
\tleaf{g25}{25}{486}{D/bovine/Shandong/Y217/2014}
\tleaf{g26}{26}{527.5}{D/bovine/Yamagata/1/2019}
\tleaf{g27}{27}{486}{D/bovine/Miyazaki/B22/2016}
\tleaf{g28}{28}{486}{D/bovine/Ibaraki/7768/2016}
\tnode{G66}{479}{g1}{g2} \tbr{G66}{g1,g2} \bsa{G66}{66}
\tnode{G83}{470.7}{G66}{g8} \tbr{G83}{G66,g3,g4,g5,g6,g7,g8} \bsa{G83}{83}
\tnode{G99a}{499}{g9}{g10} \tbr{G99a}{g9,g10} \bsa{G99a}{99}
\tnode{G99b}{518.3}{g11}{g12} \tbr{G99b}{g11,g12} \bsb{G99b}{99}
\tnode{G81}{480}{G99a}{G99b} \tbr{G81}{G99a,G99b} \bsb{G81}{81}
\tnode{GMi}{499}{g14}{g15} \tbr{GMi}{g14,g15} \bsa{GMi}{97}
\tnode{G66k}{461.7}{GMi}{g16} \tbr{G66k}{GMi,g16} \bsa{G66k}{66}
\tnode{GNe}{489}{g18}{g19} \tbr{GNe}{g18,g19} \bsa{GNe}{88}
\tnode{G68}{480}{g20}{g21} \tbr{G68}{g20,g21} \bsb{G68}{68}
\tnode{G91}{470.7}{g17}{G68} \tbr{G91}{g17,GNe,G68} \bsb{G91}{91}
\tnode{G40}{451.7}{g13}{G91} \tbr{G40}{g13,G66k,G91} \bsb{G40}{40}
\tnode{G99}{442.7}{G83}{G40} \tbr{G99}{G83,G81,G40} \bsa{G99}{99}
\tnode{GSh}{438.3}{g23}{g25} \tbr{GSh}{g23,g24,g25} \bsb{GSh}{100}
\tnode{G66r}{359.3}{g22}{GSh} \tbr{G66r}{g22,GSh} \bsb{G66r}{66}
\tnode{GU}{338.3}{G99}{G66r} \tbr{GU}{G99,G66r}
\tnode{G100}{466}{g27}{g28} \tbr{G100}{g27,g28} \bsb{G100}{100}
\tnode{G97}{404}{g26}{G100} \tbr{G97}{g26,G100} \bsb{G97}{97}
\tnode{GR}{327.3}{GU}{G97} \tbr{GR}{GU,G97}
\tarrow{Garr}{619.3}{1111.7}
\tscale{Gs}{337.3}{377.7}{1134.3}{1147.7}
\end{tikzpicture}
\end{document}
